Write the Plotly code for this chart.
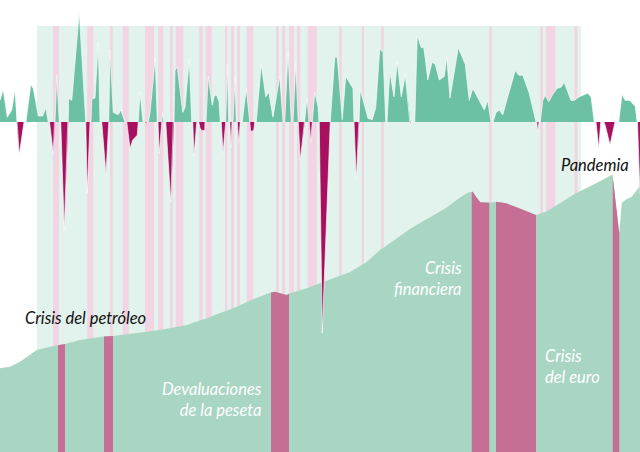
import numpy as np
import plotly.graph_objects as go

# ---- Data ----
growth_dates = [1971.00,1971.26,1971.58,1971.94,1972.20,1972.34,1972.54,1972.92,1973.08,1973.46,1973.66,1974.06,1974.42,1974.66,1974.86,
 1974.96,1975.26,1975.36,1975.40,1975.54,1975.74,1975.86,1976.14,1976.42,1976.46,1976.49,1976.74,1977.34,1977.80,
 1977.86,1977.98,1978.20,1978.28,1978.34,1978.60,1978.86,1979.00,1979.14,1979.48,1979.66,1979.70,1979.80,1980.06,1980.46,1980.66,1981.00,
 1981.14,1981.40,1981.62,1981.98,1982.00,1982.06,1982.20,1982.44,1982.60,1982.68,1982.76,1982.86,1983.00,1983.42,1983.58,
 1983.64,1983.74,1983.88,1983.94,1984.02,1984.10,1984.26,1984.66,1984.86,1984.92,1985.00,1985.18,1985.62,1985.80,1986.14,1986.34,
 1986.42,1986.52,1986.74,1986.90,1987.00,1987.14,1987.38,1987.40,1987.48,1987.66,1987.98,1988.12,1988.30,1988.52,1988.62,
 1988.70,1988.84,1989.00,1989.06,1989.18,1989.30,1989.38,1989.48,1989.56,1989.64,1989.80,1989.90,1989.98,1990.10,1990.22,
 1990.38,1990.70,1990.92,1990.98,1991.06,1991.30,1991.38,1991.50,1991.90,1992.26,1992.50,1992.84,1993.38,1993.64,
 1993.78,1994.04,1994.30,1994.44,1994.66,1994.84,1994.86,1995.02,1995.32,1995.38,1995.56,1995.72,1995.74,1995.86,1995.96,
 1995.98,1996.18,1996.44,1996.52,1996.54,1996.78,1997.38,1997.42,1997.78,1997.98,1998.38,1998.66,1999.24,1999.30,
 1999.32,1999.50,1999.70,1999.74,1999.82,2000.44,2000.78,2001.06,2001.38,2001.64,2001.86,2001.96,2002.18,2002.52,2002.78,
 2003.10,2003.42,2003.78,2003.80,2003.83,2003.88,2004.18,2004.38,2004.70,2004.90,2005.08,2005.22,2005.56,2005.82,2006.14,
 2006.54,2006.74,2007.00,2007.66,2008.22,2008.54,2008.82,2009.34,2009.74,2010.02,2010.28,2010.44,2010.68,2010.94,2011.22,
 2011.62,2012.22,2012.50,2012.82,2013.34,2013.74,2013.88,2013.94,2014.02,2014.12,2014.22,2014.42,2014.62,2014.90,2015.22,
 2015.56,2015.88,2016.14,2016.68,2016.94,2017.34,2018.02,2018.28,2018.54,2018.68,2018.90,2019.06,2019.32,2019.42,2019.80,
 2020.18,2020.20,2020.50,2020.76,2021.02,2021.40,2021.82,2021.94,2022.00,2022.20]
growth_values = [1.8,2.7,0.4,1.0,2.7,0,-2.7,0,0,3.1,2.8,0.5,0.5,1.2,0,
 0,-2.6,0,0,3.9,0,0,-9.0,0,0,2.0,1.8,9.1,0,
 0,-5.9,0,0,1.9,2.0,6.6,0,0,-4.4,0,0,6.0,0.8,0.6,1.0,0,
 0,-2.2,-1.5,-1.1,0,0,2.5,0,0,-0.2,0,0,0.8,5.3,0,
 0,-2.6,0,0,0.8,0,0,-6.7,0,0,4.3,4.6,0.8,1.2,5.2,0,
 0,-2.8,0,0,-0.5,-0.7,-0.7,0,0,3.8,1.4,2.1,2.3,1.7,0,
 0,-2.6,0,0,4.8,0,0,-2.1,0,0,3.7,0,0,-1.7,0,
 0,2.8,0,0,-0.8,-0.7,0,0,4.8,2.1,2.5,0.4,3.8,0,
 0,5.8,0,0,4.9,0,0,-3.2,0,0,2.0,0,0,-1.7,0,
 0,2.5,1.3,0,0,-17.6,0,0,5.4,5.4,0.2,3.8,2.8,0,
 0,-4.8,0,0,2.7,0.3,0.2,1.2,6.1,5.8,0,0,4.2,2.1,5.0,
 2.1,3.9,0,0,-0.3,0,0,7.2,6.2,6.2,4.9,3.5,5.0,4.8,3.5,
 3.8,5.4,2.0,6.2,4.8,1.8,2.8,1.8,1.0,1.8,0,0,0.8,1.0,0.6,
 2.1,4.3,3.9,3.9,2.4,0.6,0,0,-0.8,0,0,1.8,2.2,1.7,2.3,
 2.8,2.9,3.3,1.8,1.8,2.1,2.4,2.1,0,0,-2.2,0,0,-0.3,-1.9,
 -0.1,0,0,2.3,1.8,1.8,1.3,0,0,-6.0]

gdp_dates = [1971.00,1971.80,1972.60,1973.40,1973.94,1975.00,1975.80,1976.20,1977.40,1978.74,1979.32,1980.06,1981.66,
 1983.80,1985.94,1987.54,1988.60,1989.66,1991.26,1992.60,1993.00,1993.40,1993.94,1994.20,1995.54,1996.60,1997.66,
 1999.00,2000.34,2001.40,2002.44,2003.80,2005.16,2006.68,2007.74,2008.42,2008.82,2009.08,2009.42,2010.20,2010.68,
 2011.48,2012.54,2013.88,2014.68,2015.74,2017.08,2018.42,2020.00,2020.54,2020.74,2021.14,2021.54,2022.20]
gdp_values = [83.7,85.3,90.3,97.0,102.0,105.3,107.0,108.0,112.0,114.7,115.5,116.0,118.7,
 122.0,127.0,133.7,139.0,143.7,152.7,159.3,160.3,158.7,157.0,158.7,163.7,168.7,173.7,
 180.0,190.0,202.0,211.0,223.0,233.0,244.0,254.0,259.3,260.3,255.3,249.7,249.3,250.3,
 248.7,243.7,237.0,240.3,248.7,258.7,267.0,277.5,218.7,249.0,253.0,255.3,266.0]

recessions = [(1975.64, 1976.20), (1979.32, 1980.04), (1992.68, 1994.12),
              (2008.74, 2010.14), (2010.68, 2013.88), (2020.02, 2020.54)]
shaded_start, shaded_end = 1973.96, 2017.48
pink_periods = [(1975.24,1975.72),(1977.98,1978.46),(1979.80,1980.02),(1980.82,1981.30),(1982.60,1983.32),
 (1983.66,1984.06),(1984.60,1984.82),(1985.06,1985.66),(1986.94,1987.22),(1987.46,1987.94),(1989.00,1989.18),
 (1989.48,1989.72),(1989.98,1990.20),(1990.74,1991.26),(1993.08,1993.30),(1993.56,1993.82),(1994.14,1994.52),
 (1994.76,1995.02),(1995.62,1996.34),(1998.14,1998.34),(1999.94,2000.12),(2001.50,2001.70),(2010.14,2010.34),
 (2014.22,2014.44),(2014.68,2015.42),(2016.96,2017.20)]

labels = [
    dict(text="<i>Crisis del petróleo</i>", x=1977.8, y=134, color="#111111", xanchor="center", align="center"),
    dict(text="<i>Devaluaciones<br>de la peseta</i>", x=1992.1, y=53, color="white", xanchor="right", align="right"),
    dict(text="<i>Crisis<br>financiera</i>", x=2008.1, y=174, color="white", xanchor="right", align="right"),
    dict(text="<i>Crisis<br>del euro</i>", x=2014.45, y=86, color="white", xanchor="left", align="left"),
    dict(text="<i>Pandemia</i>", x=2018.6, y=287, color="#111111", xanchor="center", align="center"),
]

# ---- Colors ----
C_BG = "#e2f2ec"
C_STRIPE = "#f2d4e2"
C_GDP = "#a9d5c3"
C_BAND = "#c56f95"
C_POS = "#6cc1a4"
C_NEG = "#a8105f"

fig = go.Figure()

# GDP area
fig.add_trace(go.Scatter(x=gdp_dates, y=gdp_values, mode="lines", fill="tozeroy",
                         fillcolor=C_GDP, line=dict(width=0, color=C_GDP), hoverinfo="skip"))

# Recession bands clipped to GDP curve
gd = np.array(gdp_dates); gv = np.array(gdp_values)
for a, b in recessions:
    inside = (gd > a) & (gd < b)
    xs = [a] + list(gd[inside]) + [b]
    ys = [float(np.interp(a, gd, gv))] + list(gv[inside]) + [float(np.interp(b, gd, gv))]
    xs = xs + [b, a]
    ys = ys + [0, 0]
    fig.add_trace(go.Scatter(x=xs, y=ys, mode="lines", fill="toself", fillcolor=C_BAND,
                             line=dict(width=0, color=C_BAND), hoverinfo="skip"))

# Growth series split into positive / negative
px_, py_ = [], []
for i in range(len(growth_dates)):
    if i > 0 and growth_values[i-1] * growth_values[i] < 0:
        v0, v1 = growth_values[i-1], growth_values[i]
        t = v0 / (v0 - v1)
        px_.append(growth_dates[i-1] + t * (growth_dates[i] - growth_dates[i-1])); py_.append(0)
    px_.append(growth_dates[i]); py_.append(growth_values[i])
pos = [max(v, 0) for v in py_]
neg = [min(v, 0) for v in py_]
fig.add_trace(go.Scatter(x=px_, y=pos, yaxis="y2", mode="lines", fill="tozeroy", fillcolor=C_POS,
                         line=dict(width=0, color=C_POS), hoverinfo="skip"))
fig.add_trace(go.Scatter(x=px_, y=neg, yaxis="y2", mode="lines", fill="tozeroy", fillcolor=C_NEG,
                         line=dict(width=0, color=C_NEG), hoverinfo="skip"))
fig.add_trace(go.Scatter(x=growth_dates, y=growth_values, yaxis="y2", mode="lines",
                         line=dict(width=0.8, color="rgba(255,255,255,0.8)"), hoverinfo="skip"))

# Background shading and stripes
shapes = [dict(type="rect", xref="x", yref="paper", x0=shaded_start, x1=shaded_end, y0=0, y1=1 - 26/452,
               fillcolor=C_BG, line=dict(width=0), layer="below")]
for a, b in pink_periods:
    shapes.append(dict(type="rect", xref="x", yref="paper", x0=a, x1=b, y0=0, y1=1 - 26/452,
                       fillcolor=C_STRIPE, line=dict(width=0), layer="below"))

annotations = []
for l in labels:
    annotations.append(dict(text=l["text"], x=l["x"], y=l["y"], xref="x", yref="y", showarrow=False,
                            xanchor=l["xanchor"], yanchor="middle", align=l["align"],
                            font=dict(family="Lato", size=16.5, color=l["color"])))

fig.update_layout(
    width=640, height=452, margin=dict(l=0, r=0, t=0, b=0),
    paper_bgcolor="white", plot_bgcolor="white", showlegend=False,
    xaxis=dict(range=[1971, 2022.2], visible=False, fixedrange=True),
    yaxis=dict(range=[0, 452], visible=False, fixedrange=True),
    yaxis2=dict(range=[-330/12, 122/12], overlaying="y", visible=False, fixedrange=True),
    shapes=shapes, annotations=annotations,
)

fig.write_html("out.html")
